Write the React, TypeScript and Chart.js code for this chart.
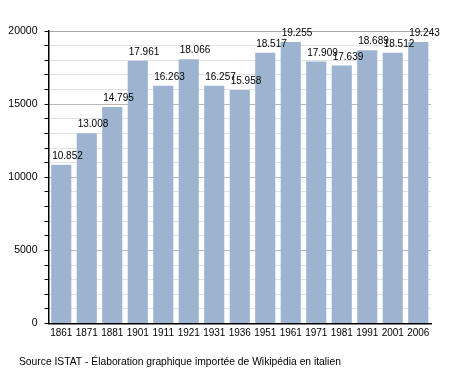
import React, { useEffect, useRef } from "react";
import { Chart, registerables } from "chart.js";

Chart.register(...registerables);

const categories = ["1861", "1871", "1881", "1901", "1911", "1921", "1931", "1936", "1951", "1961", "1971", "1981", "1991", "2001", "2006"];
const population = [10852, 13008, 14795, 17961, 16263, 18066, 16257, 15958, 18517, 19255, 17909, 17639, 18689, 18512, 19243];
const valueLabels = ["10.852", "13.008", "14.795", "17.961", "16.263", "18.066", "16.257", "15.958", "18.517", "19.255", "17.909", "17.639", "18.689", "18.512", "19.243"];
const caption = "Source ISTAT - Élaboration graphique importée de Wikipédia en italien";

const FONT = "'Liberation Sans', Arial, sans-serif";

const labelsPlugin = {
  id: "valueLabels",
  afterDatasetsDraw(chart: any) {
    const ctx = chart.ctx;
    const meta = chart.getDatasetMeta(0);
    ctx.save();
    ctx.font = `10px ${FONT}`;
    ctx.fillStyle = "#000";
    ctx.textAlign = "left";
    ctx.textBaseline = "alphabetic";
    meta.data.forEach((bar: any, i: number) => {
      const left = bar.x - bar.width / 2;
      ctx.fillText(valueLabels[i], left + 1, bar.y - 6);
    });
    ctx.restore();
  },
  afterDraw(chart: any) {
    const ctx = chart.ctx;
    ctx.save();
    ctx.font = `10.3px ${FONT}`;
    ctx.fillStyle = "#000";
    ctx.textAlign = "left";
    ctx.textBaseline = "alphabetic";
    ctx.fillText(caption, 19, 365);
    ctx.restore();
  },
};

export default function App() {
  const ref = useRef<HTMLCanvasElement>(null);
  useEffect(() => {
    document.body.style.margin = "0";
    const chart = new Chart(ref.current!, {
      type: "bar",
      data: {
        labels: categories,
        datasets: [
          {
            data: population,
            backgroundColor: "#9cb4d0",
            borderWidth: 0,
            categoryPercentage: 1,
            barPercentage: 0.79,
          },
        ],
      },
      plugins: [labelsPlugin],
      options: {
        responsive: false,
        animation: false,
        layout: { padding: { left: 0, top: 31, right: 27, bottom: 0 } },
        plugins: { legend: { display: false }, tooltip: { enabled: false } },
        scales: {
          x: {
            grid: { display: false, drawTicks: false },
            border: { color: "#000", width: 1.5 },
            ticks: {
              color: "#000",
              font: { family: FONT, size: 10 },
              padding: 4,
              maxRotation: 0,
              autoSkip: false,
            },
            afterFit(scale: any) {
              scale.height = 373 - 31 - 292.5 - 0;
            },
          },
          y: {
            min: 0,
            max: 20000,
            border: { color: "#000", width: 1.5 },
            grid: {
              color: (c: any) => {
                const v = c.tick?.value;
                if (v === 20000) return "#a8a8a8";
                return v % 5000 === 0 ? "#b8b8b8" : "#e2e2e2";
              },
              tickColor: "#000",
              tickLength: 4,
              drawTicks: true,
            },
            ticks: {
              stepSize: 1000,
              autoSkip: false,
              color: "#000",
              font: { family: FONT, size: 10.5 },
              padding: 7,
              callback: (v: any) => (Number(v) % 5000 === 0 ? String(v) : ""),
            },
            afterFit(scale: any) {
              scale.width = 48.5;
            },
          },
        },
      },
    });
    return () => chart.destroy();
  }, []);
  return <canvas ref={ref} width={458} height={373} style={{ display: "block" }} />;
}
